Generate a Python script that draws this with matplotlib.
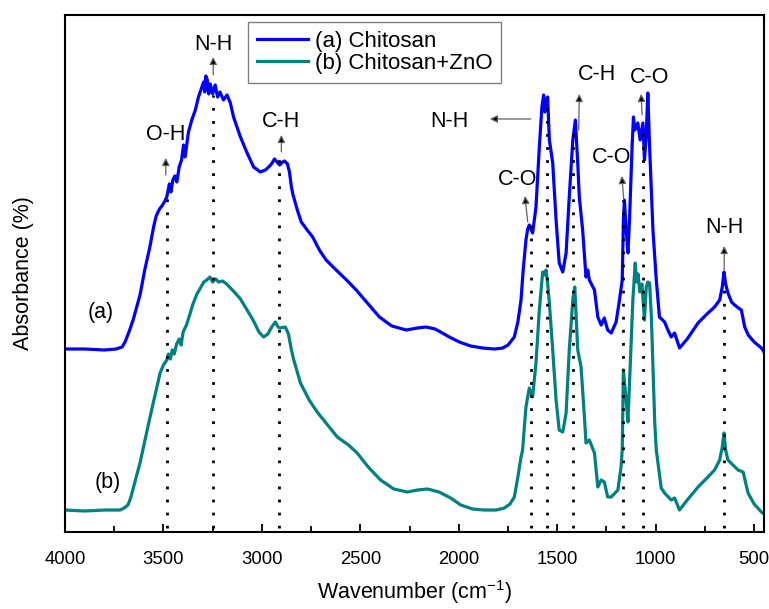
import numpy as np
import matplotlib.pyplot as plt

plt.rcParams['font.family'] = ['Liberation Sans', 'DejaVu Sans']
plt.rcParams['mathtext.fontset'] = 'custom'
plt.rcParams['mathtext.rm'] = 'Liberation Sans'

# (a) chitosan: wavenumber (cm-1) and absorbance (arb. units)
wn_a = [4000, 3900, 3800, 3740, 3710, 3695, 3675, 3654, 3619, 3595, 3570, 3550, 3537, 3520, 3508,
        3495, 3483, 3470, 3462, 3452, 3442, 3432, 3420, 3408, 3398, 3390, 3373, 3356, 3338, 3322,
        3305, 3296, 3290, 3285, 3277, 3270, 3262, 3250, 3237, 3225, 3213, 3195, 3177, 3160, 3144,
        3109, 3075, 3042, 3008, 2982, 2960, 2948, 2936, 2923, 2910, 2895, 2885, 2870, 2860, 2850,
        2843, 2820, 2800, 2770, 2742, 2708, 2674, 2623, 2570, 2521, 2460, 2403, 2340, 2267, 2210,
        2166, 2120, 2048, 1997, 1940, 1879, 1820, 1777, 1750, 1718, 1700, 1684, 1673, 1659, 1650,
        1642, 1625, 1608, 1591, 1578, 1569, 1563, 1557, 1549, 1544, 1540, 1523, 1506, 1490, 1472,
        1455, 1439, 1421, 1408, 1396, 1388, 1371, 1354, 1345, 1337, 1311, 1294, 1277, 1261, 1244,
        1226, 1201, 1184, 1170, 1164, 1159, 1150, 1141, 1133, 1120, 1113, 1106, 1099, 1091, 1079,
        1065, 1057, 1048, 1040, 1031, 1014, 997, 981, 955, 938, 921, 904, 879, 840, 785,
        740, 701, 675, 662, 653, 645, 633, 615, 599, 580, 565, 548, 530, 500, 463, 450]
abs_a = [183, 183, 182, 183, 185, 190, 200, 212, 237, 262, 284, 305, 316, 323, 326,
         330, 335, 348, 340, 352, 356, 350, 365, 372, 387, 375, 400, 412, 422, 435,
         445, 450, 440, 456, 452, 438, 448, 438, 447, 435, 440, 432, 437, 429, 415,
         395, 379, 365, 360, 362, 366, 369, 373, 370, 367, 370, 371, 368, 360, 345,
         338, 322, 310, 302, 295, 282, 272, 262, 252, 242, 228, 215, 206, 202, 204,
         205, 203, 195, 190, 186, 184, 183, 184, 187, 195, 210, 232, 262, 292, 303,
         307, 299, 325, 385, 425, 437, 420, 432, 435, 412, 392, 369, 312, 269, 260,
         279, 335, 392, 412, 369, 335, 302, 255, 262, 252, 242, 215, 207, 214, 202,
         199, 210, 232, 252, 312, 332, 302, 279, 312, 385, 415, 402, 405, 409, 392,
         409, 372, 397, 439, 385, 302, 252, 215, 210, 202, 195, 199, 184, 193, 209,
         218, 225, 232, 245, 260, 248, 239, 230, 227, 224, 222, 205, 197, 190, 184, 180]

# (b) chitosan + ZnO
wn_b = [4000, 3900, 3800, 3720, 3700, 3680, 3665, 3645, 3619, 3568, 3517, 3500, 3483, 3475, 3465,
        3455, 3445, 3433, 3420, 3410, 3400, 3383, 3370, 3350, 3330, 3315, 3295, 3280, 3264, 3250,
        3235, 3220, 3200, 3179, 3160, 3140, 3109, 3075, 3042, 3015, 2991, 2970, 2950, 2932, 2918,
        2906, 2881, 2865, 2850, 2838, 2804, 2760, 2719, 2670, 2617, 2560, 2516, 2460, 2397, 2330,
        2261, 2210, 2159, 2100, 2041, 1990, 1930, 1871, 1810, 1769, 1740, 1718, 1700, 1684, 1676,
        1659, 1642, 1625, 1608, 1591, 1574, 1566, 1557, 1549, 1540, 1523, 1506, 1490, 1472, 1455,
        1439, 1421, 1411, 1404, 1396, 1379, 1362, 1354, 1337, 1311, 1294, 1277, 1261, 1244, 1226,
        1192, 1176, 1170, 1164, 1150, 1141, 1133, 1116, 1104, 1097, 1090, 1080, 1070, 1062, 1057,
        1048, 1040, 1031, 1022, 1014, 1005, 997, 972, 955, 921, 904, 879, 840, 785, 740,
        701, 675, 662, 653, 645, 633, 582, 556, 531, 500, 463, 450]
abs_b = [22, 21, 22, 22, 24, 27, 35, 50, 69, 115, 159, 167, 172, 178, 173,
         182, 178, 188, 193, 187, 200, 207, 215, 228, 238, 243, 250, 252, 255, 250,
         253, 250, 251, 248, 244, 240, 233, 222, 211, 200, 195, 198, 205, 210, 205,
         204, 205, 198, 182, 172, 149, 132, 120, 108, 95, 87, 79, 65, 52, 43,
         40, 42, 43, 40, 34, 27, 23, 22, 22, 24, 28, 35, 55, 75, 82,
         125, 144, 135, 169, 222, 260, 257, 262, 249, 229, 182, 132, 102, 100, 119,
         182, 232, 245, 215, 182, 165, 115, 89, 92, 79, 45, 52, 50, 35, 35,
         42, 65, 82, 162, 132, 110, 149, 232, 269, 250, 258, 240, 248, 225, 212,
         245, 250, 249, 215, 165, 110, 82, 44, 39, 32, 34, 22, 32, 45, 54,
         62, 72, 85, 99, 82, 72, 62, 60, 39, 28, 20, 18]

# band positions marked with dotted guides and how high each guide reaches
band_wn = [3484, 3247, 2911, 1634, 1554, 1421, 1164, 1067, 655]
band_top = [337, 437, 378, 307, 432, 402, 332, 402, 242]

# assignments: text, text position, arrow tail, arrow head
labels = ["O-H", "N-H", "C-H", "N-H", "C-O", "C-H", "C-O", "C-O", "N-H"]
label_xy = [(3491, 397), (3247, 487), (2901, 410), (2046, 410), (1700, 352),
            (1298, 457), (1222, 374), (1033, 454), (652, 304)]
arrow_from = [(3488, 357), (3247, 457), (2901, 380), (1634, 413), (1650, 310),
              (1391, 402), (1162, 332), (1069, 417), (652, 262)]
arrow_to = [(3488, 374), (3247, 475), (2901, 397), (1842, 413), (1664, 336),
            (1388, 438), (1172, 356), (1074, 438), (652, 286)]

fig = plt.figure(figsize=(7.69, 6.09), dpi=100)
ax = fig.add_axes([0.0845, 0.1264, 0.9090, 0.8490])

ax.plot(wn_a, abs_a, color='#0000ff', lw=2.3, label='(a) Chitosan')
ax.plot(wn_b, abs_b, color='#008080', lw=2.3, label='(b) Chitosan+ZnO')

for w, top in zip(band_wn, band_top):
    ax.plot([w, w], [4, top], color='black', lw=2, linestyle=(0, (1, 3.7)))

for txt, xy, p0, p1 in zip(labels, label_xy, arrow_from, arrow_to):
    ax.text(xy[0], xy[1], txt, fontsize=15.5, ha='center', va='center')
    ax.annotate('', xy=p1, xytext=p0,
                arrowprops=dict(arrowstyle='-|>', fc='black', ec='#606060', lw=0.9,
                                mutation_scale=11, shrinkA=0, shrinkB=0))

ax.text(3817, 220, '(a)', fontsize=15.5, ha='center', va='center')
ax.text(3781, 50, '(b)', fontsize=15.5, ha='center', va='center')

ax.set_xlim(4000, 450)
ax.set_ylim(0, 517)
ax.set_xticks([4000, 3500, 3000, 2500, 2000, 1500, 1000, 500])
ax.set_xticks(np.arange(750, 4000, 500), minor=True)
ax.set_yticks([])
ax.tick_params(axis='x', which='major', direction='in', length=6, width=1.3, labelsize=13.3, pad=14)
ax.tick_params(axis='x', which='minor', direction='in', length=4, width=1.3)
for s in ax.spines.values():
    s.set_linewidth(1.5)

ax.set_xlabel('Wavenumber (cm$^{-1}$)', fontsize=15.5, labelpad=7)
ax.set_ylabel('Absorbance (%)', fontsize=15.5, labelpad=22)

leg = ax.legend(loc='upper left', bbox_to_anchor=(0.262, 0.986), fontsize=16,
                fancybox=False, framealpha=1, edgecolor='#808080', handlelength=2.3,
                borderpad=0.4, labelspacing=0.05, handletextpad=0.3, borderaxespad=0)
leg.get_frame().set_linewidth(1.0)

fig.savefig('out.png', dpi=100)
